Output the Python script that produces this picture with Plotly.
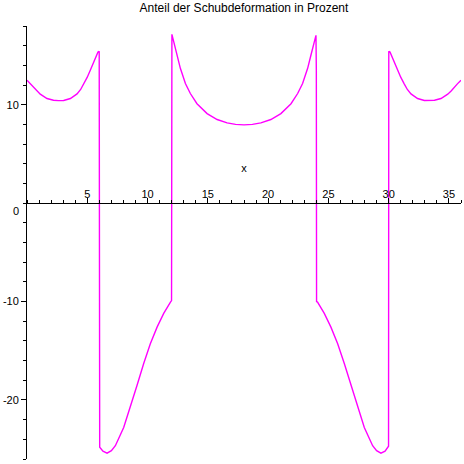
import plotly.graph_objects as go

# Curve samples (x, y)
x_vals = [0, 0.3, 0.55, 0.8, 1.1, 1.66, 2.2, 2.6, 3.04, 3.6, 4.15, 4.45, 4.7, 5.0, 5.25, 5.47, 5.67, 5.89, 5.99,
          6.0, 6.03,
          6.3, 6.64, 7.0, 7.33, 8.02, 8.57, 9.13, 9.68, 10.23, 10.79, 11.34, 11.9, 11.99,
          12.02,
          12.17, 12.3, 12.45, 12.72, 13.14, 13.55, 14.1, 14.94, 15.77, 16.6, 17.3, 18.0, 18.7,
          19.4, 20.23, 21.06, 21.9, 22.45, 22.86, 23.28, 23.55, 23.7, 23.83, 23.97,
          24.0, 24.02,
          24.1, 24.66, 25.21, 25.77, 26.32, 26.87, 27.43, 27.98, 28.67, 29.0, 29.36, 29.7, 29.99,
          30.01,
          30.11, 30.33, 30.53, 30.75, 31.0, 31.3, 31.55, 31.85, 32.4, 32.96, 33.4, 33.8, 34.34, 34.9, 35.2, 35.45, 35.7, 36.0]
y_vals = [12.5, 12.12, 11.8, 11.42, 11.07, 10.63, 10.46, 10.42, 10.43, 10.63, 11.1, 11.55, 12.1, 12.8, 13.5, 14.1, 14.7, 15.35, 15.43,
          -7.8, -24.8,
          -25.2, -25.4, -25.15, -24.65, -22.8, -20.75, -18.5, -16.3, -14.3, -12.6, -11.2, -10.05, -9.9,
          17.15,
          16.4, 15.7, 15.03, 13.7, 12.15, 11.14, 10.1, 9.1, 8.5, 8.15, 8.0, 7.95, 8.0,
          8.15, 8.5, 9.1, 10.1, 11.14, 12.15, 13.7, 15.03, 15.7, 16.4, 17.05,
          13.5, -10.0,
          -10.05, -11.2, -12.6, -14.3, -16.3, -18.5, -20.75, -22.8, -24.65, -25.15, -25.4, -25.2, -24.7,
          15.43,
          15.35, 14.7, 14.1, 13.5, 12.8, 12.1, 11.55, 11.1, 10.63, 10.43, 10.42, 10.46, 10.63, 11.07, 11.42, 11.8, 12.12, 12.5]

x_tick_vals = [5, 10, 15, 20, 25, 30, 35]
x_tick_text = ["5", "10", "15", "20", "25", "30", "35"]
y_tick_vals = [-20, -10, 10]
y_tick_text = ["-20", "-10", "10"]

x_range = [0, 36]
y_range = [-26, 18]

font_family = "Liberation Sans, Arial, sans-serif"

fig = go.Figure()
fig.add_trace(go.Scatter(x=x_vals, y=y_vals, mode="lines",
                         line=dict(color="#FF00FF", width=1.4),
                         hoverinfo="skip", showlegend=False))

zero_pos = (0 - y_range[0]) / (y_range[1] - y_range[0])

fig.update_layout(
    width=464, height=464,
    margin=dict(l=27, r=3, t=26, b=5, autoexpand=False),
    paper_bgcolor="white", plot_bgcolor="white",
    font=dict(family=font_family, size=11, color="black"),
    title=dict(text="Anteil der Schubdeformation in Prozent",
               x=0.5, xanchor="center", xref="paper",
               y=1 - 8 / 464, yanchor="middle", yref="container",
               font=dict(family=font_family, size=12, color="black")),
    xaxis=dict(range=x_range, anchor="free", position=zero_pos, side="top",
               automargin=False,
               showline=True, linecolor="black", linewidth=1,
               showgrid=False, zeroline=False,
               tickmode="array", tickvals=x_tick_vals, ticktext=x_tick_text,
               ticks="outside", ticklen=5, tickcolor="black", tickwidth=1,
               ticklabelstandoff=-4,
               minor=dict(dtick=1, ticks="outside", ticklen=3, tickcolor="black", showgrid=False),
               tickfont=dict(size=11),
               title=dict(text="x", standoff=11, font=dict(size=11))),
    yaxis=dict(range=y_range, automargin=False,
               showline=True, linecolor="black", linewidth=1,
               showgrid=False, zeroline=False,
               tickmode="array", tickvals=y_tick_vals, ticktext=y_tick_text,
               ticks="outside", ticklen=5, tickcolor="black", tickwidth=1,
               minor=dict(dtick=2, ticks="outside", ticklen=3, tickcolor="black", showgrid=False),
               tickfont=dict(size=11)),
)

fig.add_annotation(text="0", xref="paper", yref="y", x=0, y=0,
                   xanchor="right", yanchor="top", xshift=-6, yshift=0,
                   showarrow=False, font=dict(family=font_family, size=11, color="black"))

fig.write_html("out.html",
               config={"displayModeBar": False},
               post_script="document.body.style.margin='0';document.body.style.overflow='hidden';")
